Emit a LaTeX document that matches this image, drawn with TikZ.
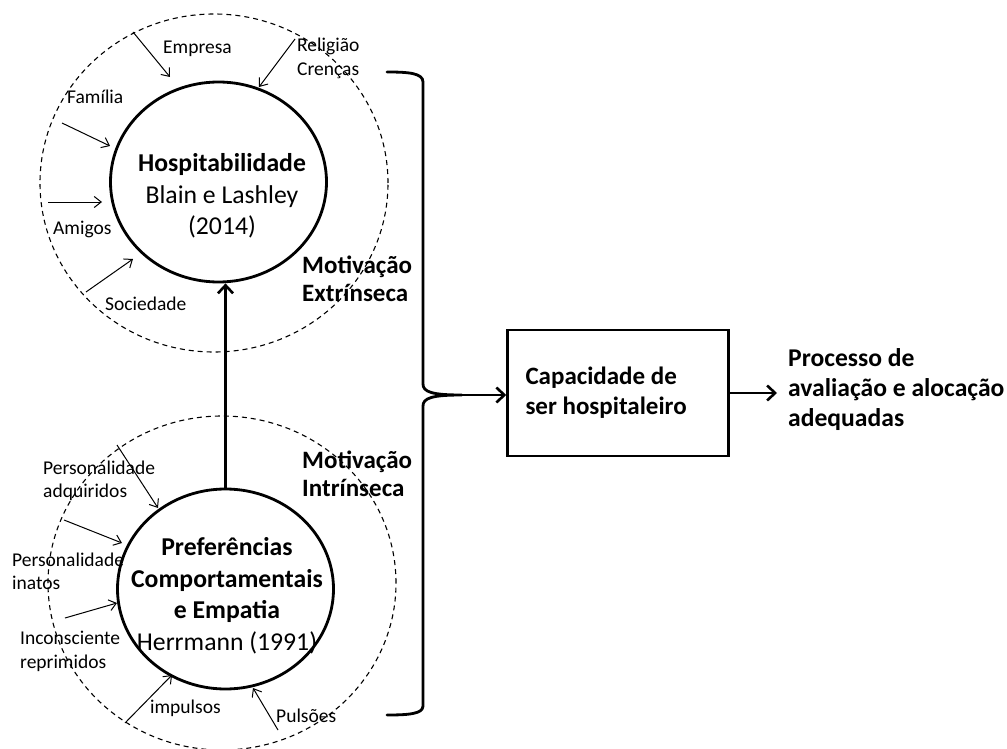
\documentclass[tikz,border=0pt]{standalone}
\usepackage{fontspec}
\setmainfont{Carlito}
\usetikzlibrary{shapes.geometric,arrows.meta}
\tikzset{
  dashring/.style={draw, dash pattern=on 5pt off 4pt, line width=1.1pt},
  solidring/.style={draw, ellipse, line width=2.8pt, minimum width=216pt, minimum height=200pt, inner sep=0pt},
  lbl/.style={font=\fontsize{19.5}{23.5}\selectfont, align=left, inner sep=0pt, anchor=west},
  bigtxt/.style={font=\fontsize{25.7}{31.5}\selectfont, align=center, inner sep=0pt},
  motiv/.style={font=\fontsize{25}{28.5}\selectfont\bfseries, align=left, inner sep=0pt, anchor=west},
  proctxt/.style={font=\fontsize{25.6}{30}\selectfont\bfseries, align=left, inner sep=0pt, anchor=west},
  inarrow/.style={-{Straight Barb[length=7pt,width=11pt]}, line width=1pt},
  mainarrow/.style={-{Straight Barb[length=8pt,width=15pt]}, line width=2.6pt},
  boxnode/.style={draw, line width=2.5pt, minimum width=221pt, minimum height=126pt, text width=185pt, inner xsep=18pt, align=flush left, font=\fontsize{25}{30}\selectfont\bfseries},
}
\begin{document}
\begin{tikzpicture}[x=1pt,y=-1pt]
\useasboundingbox (0,0) rectangle (1007,749);

% dashed influence rings
\draw[dashring] (214,183) ellipse [x radius=174pt, y radius=169pt];
\draw[dashring] (222,583) ellipse [x radius=174pt, y radius=167pt];

% solid circles
\node[solidring] (top) at (218.5,182) {};
\node[solidring] (bot) at (225.5,589) {};
\node[bigtxt] (toptxt) at (222,196) {\textbf{Hospitabilidade}\\Blain e Lashley\\(2014)};
\node[bigtxt] (bottxt) at (227,596) {\textbf{Preferências}\\\textbf{Comportamentais}\\\textbf{e Empatia}\\Herrmann (1991)};

% vertical arrow
\draw[mainarrow] (bot.north) -- (bot.north |- top.south);

% top labels
\node[lbl] (empresa) at (163,49) {Empresa};
\node[lbl] (religiao) at (297,58.5) {Religião\\Crenças};
\node[lbl] (familia) at (67,97) {Família};
\node[lbl] (amigos) at (53,229) {Amigos};
\node[lbl] (sociedade) at (105,304) {Sociedade};

\coordinate (e1) at (133,32);  \coordinate (e2) at (170,77);
\coordinate (r1) at (295,39);  \coordinate (r2) at (259,87);
\coordinate (f1) at (62,123);  \coordinate (f2) at (110,146);
\coordinate (a1) at (48,202);  \coordinate (a2) at (102,202);
\coordinate (s1) at (86,292);  \coordinate (s2) at (133,259);
\draw[inarrow] (e1) -- (e2);
\draw[inarrow] (r1) -- (r2);
\draw[inarrow] (f1) -- (f2);
\draw[inarrow] (a1) -- (a2);
\draw[inarrow] (s1) -- (s2);

% bottom labels
\node[lbl] (pers1) at (43,481) {Personalidade\\adquiridos};
\node[lbl] (pers2) at (12,571.5) {Personalidade\\inatos};
\node[lbl] (incons) at (20,651.5) {Inconsciente\\reprimidos};
\node[lbl] (impulsos) at (150,708) {impulsos};
\node[lbl] (pulsoes) at (276,716) {Pulsões};

\coordinate (p1) at (117,445); \coordinate (p2) at (158,508);
\coordinate (q1) at (64,520);  \coordinate (q2) at (122,543);
\coordinate (i1) at (65,618);  \coordinate (i2) at (117,603);
\coordinate (m1) at (125,723); \coordinate (m2) at (172,675);
\coordinate (u1) at (278,730); \coordinate (u2) at (253,688);
\draw[inarrow] (p1) -- (p2);
\draw[inarrow] (q1) -- (q2);
\draw[inarrow] (i1) -- (i2);
\draw[inarrow] (m1) -- (m2);
\draw[inarrow] (u1) -- (u2);

% motivation labels
\node[motiv] (extr) at (302,279) {Motivação\\Extrínseca};
\node[motiv] (intr) at (302,474) {Motivação\\Intrínseca};

% brace
\coordinate (tip) at (462,395);
\draw[line width=2.8pt, line cap=round]
  (387,72) .. controls (408,72) and (423,73) .. (423,82)
  -- (423,384) .. controls (423,392) and (432,395) .. (tip)
  .. controls (432,395) and (423,398) .. (423,406)
  -- (423,706) .. controls (423,714) and (408,715) .. (387,715);

% box and output
\node[boxnode] (box) at (618,393) {Capacidade de\\ser hospitaleiro};
\node[proctxt] (proc) at (788,390) {Processo de\\avaliação e alocação\\adequadas};

\draw[mainarrow] (tip) -- (tip -| box.west);
\draw[mainarrow, shorten >=11pt] (box.east) -- (box.east -| proc.west);
\end{tikzpicture}
\end{document}
